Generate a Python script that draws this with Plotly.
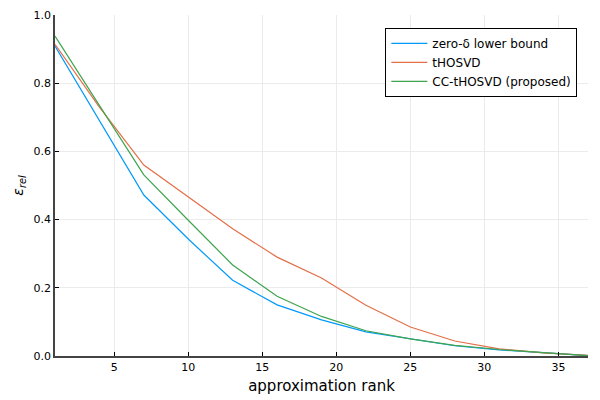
import plotly.graph_objects as go

ranks = [1, 4, 7, 10, 13, 16, 19, 22, 25, 28, 31, 34, 37]
lower_bound = [0.909, 0.690, 0.472, 0.343, 0.222, 0.150, 0.106, 0.071, 0.050, 0.030, 0.018, 0.010, 0.001]
thosvd = [0.914, 0.730, 0.560, 0.467, 0.373, 0.290, 0.229, 0.149, 0.085, 0.044, 0.021, 0.009, 0.002]
cc_thosvd = [0.938, 0.736, 0.531, 0.398, 0.267, 0.175, 0.116, 0.074, 0.050, 0.031, 0.019, 0.010, 0.001]

names = ["zero-δ lower bound", "tHOSVD", "CC-tHOSVD (proposed)"]
colors = ["#009AFA", "#E36F47", "#3EA44E"]
series = [lower_bound, thosvd, cc_thosvd]

x_ticks = [5, 10, 15, 20, 25, 30, 35]
y_ticks = [0.0, 0.2, 0.4, 0.6, 0.8, 1.0]

fig = go.Figure()
for name, col, ys in zip(names, colors, series):
    fig.add_trace(go.Scatter(x=ranks, y=ys, mode="lines", name=name,
                             line=dict(color=col, width=1.2)))

font = "DejaVu Sans"
fig.update_layout(
    width=592, height=392,
    margin=dict(l=47, r=12, t=7, b=44, autoexpand=False),
    paper_bgcolor="white", plot_bgcolor="white",
    font=dict(family=font, size=11, color="black"),
    showlegend=True,
    legend=dict(x=0.98, y=0.962, xanchor="right", yanchor="top",
                bordercolor="black", borderwidth=1, bgcolor="white",
                font=dict(size=12), tracegroupgap=0, itemwidth=36),
    xaxis=dict(range=[1, 37], tickvals=x_ticks, ticks="inside", ticklen=4,
               tickcolor="black", showline=True, linecolor="#444444", linewidth=1.5,
               showgrid=True, gridcolor="#ebebeb", gridwidth=1, zeroline=False,
               automargin=False, ticklabeloverflow="allow",
               title=dict(text="approximation rank", font=dict(size=15), standoff=8),
               tickfont=dict(size=11)),
    yaxis=dict(range=[0, 1], tickvals=y_ticks, tickformat=".1f", ticks="inside", ticklen=4,
               tickcolor="black", showline=True, linecolor="#444444", linewidth=1.5,
               showgrid=True, gridcolor="#ebebeb", gridwidth=1, zeroline=False,
               automargin=False, ticklabeloverflow="allow",
               title=dict(text="<i>ε<sub>rel</sub></i>", font=dict(size=14), standoff=7),
               tickfont=dict(size=11)),
)

fig.write_html("out.html")
